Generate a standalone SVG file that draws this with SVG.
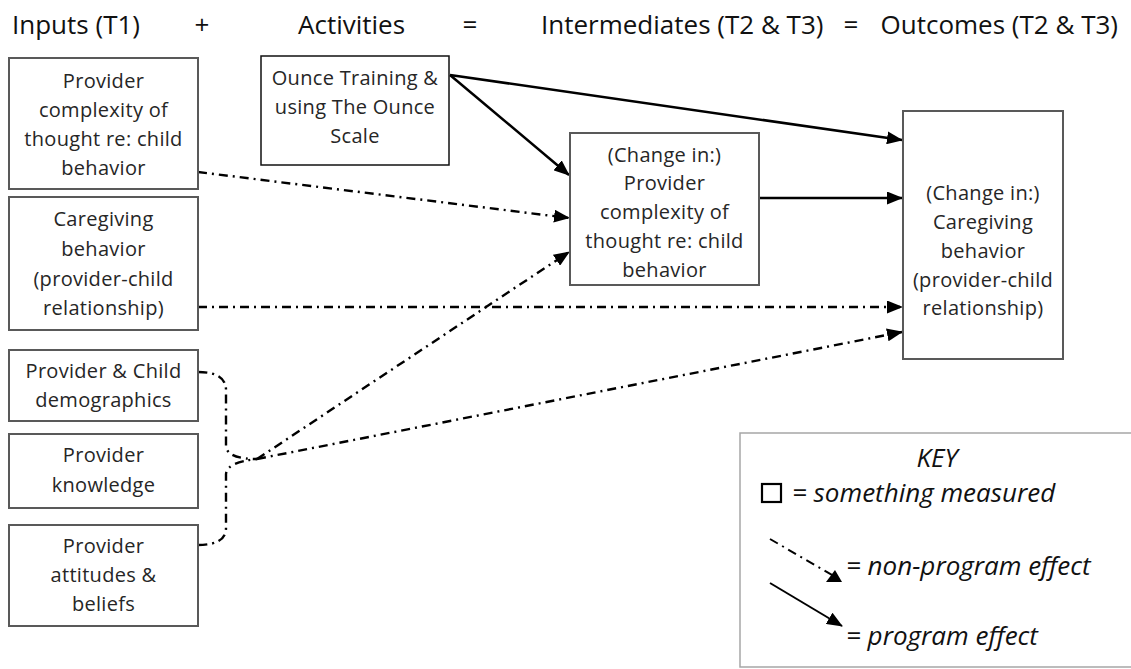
<svg xmlns="http://www.w3.org/2000/svg" width="1131" height="669" viewBox="0 0 1131 669">
<style>
.title{font-family:"Open Sans","Liberation Sans",sans-serif;font-size:26px;fill:#111;}
.box{fill:#fff;stroke:#595959;stroke-width:2;}
.box2{fill:#fff;stroke:#111;stroke-width:1.5;}
.t{font-family:"Open Sans","Liberation Sans",sans-serif;font-size:20px;fill:#262626;text-anchor:middle;letter-spacing:0.3px;}
.solid{fill:none;stroke:#000;stroke-width:2.5;marker-end:url(#ah);}
.dd{fill:none;stroke:#000;stroke-width:2.4;stroke-dasharray:9 5 2 5;}
.dda{marker-end:url(#ah);}
.key{font-family:"Open Sans","Liberation Sans",sans-serif;font-size:26px;font-style:italic;fill:#111;}
</style>
<defs>
<marker id="ah" markerUnits="userSpaceOnUse" markerWidth="16" markerHeight="13" refX="15" refY="6.5" orient="auto">
<path d="M0,0 L16,6.5 L0,13 z" fill="#000"/>
</marker>
</defs>
<rect width="1131" height="669" fill="#fff"/>
<g id="header">
<text class="title" x="12" y="34">Inputs (T1)</text>
<text class="title" x="202" y="34" text-anchor="middle">+</text>
<text class="title" x="298" y="34">Activities</text>
<text class="title" x="470" y="34" text-anchor="middle">=</text>
<text class="title" x="541" y="34">Intermediates (T2 &amp; T3)</text>
<text class="title" x="851" y="34" text-anchor="middle">=</text>
<text class="title" x="1118" y="34" text-anchor="end">Outcomes (T2 &amp; T3)</text>
</g>
<g id="connectors">
<line class="solid" x1="450" y1="75" x2="902" y2="140"/>
<line class="solid" x1="450" y1="75" x2="569" y2="175"/>
<line class="solid" x1="759" y1="198" x2="902" y2="198"/>
<line class="dd dda" x1="198" y1="172" x2="569" y2="218"/>
<line class="dd dda" x1="198" y1="307" x2="902" y2="307"/>
<line class="dd dda" x1="257" y1="459" x2="569" y2="252"/>
<line class="dd dda" x1="257" y1="459" x2="902" y2="332"/>
<path class="dd" d="M198,372 Q226,372 226,390 L226,446 Q227,459 257,459"/>
<path class="dd" d="M198,545 Q226,545 226,528 L226,474 Q227,462 257,459"/>
</g>
<g id="n1">
<rect class="box" x="9" y="58" width="189" height="131"/>
<text class="t" x="103.5" y="88">Provider</text>
<text class="t" x="103.5" y="117">complexity of</text>
<text class="t" x="103.5" y="146">thought re: child</text>
<text class="t" x="103.5" y="175">behavior</text>
</g>
<g id="n2">
<rect class="box" x="9" y="197" width="189" height="133"/>
<text class="t" x="103.5" y="226">Caregiving</text>
<text class="t" x="103.5" y="256">behavior</text>
<text class="t" x="103.5" y="286">(provider-child</text>
<text class="t" x="103.5" y="315">relationship)</text>
</g>
<g id="n3">
<rect class="box" x="9" y="350" width="189" height="71"/>
<text class="t" x="103.5" y="378">Provider &amp; Child</text>
<text class="t" x="103.5" y="407">demographics</text>
</g>
<g id="n4">
<rect class="box" x="9" y="434" width="189" height="74"/>
<text class="t" x="103.5" y="462">Provider</text>
<text class="t" x="103.5" y="492">knowledge</text>
</g>
<g id="n5">
<rect class="box" x="9" y="525" width="189" height="101"/>
<text class="t" x="103.5" y="553">Provider</text>
<text class="t" x="103.5" y="582">attitudes &amp;</text>
<text class="t" x="103.5" y="611">beliefs</text>
</g>
<g id="n6">
<rect class="box2" x="261" y="56" width="188" height="109"/>
<text class="t" x="355" y="85">Ounce Training &amp;</text>
<text class="t" x="355" y="114">using The Ounce</text>
<text class="t" x="355" y="143">Scale</text>
</g>
<g id="n7">
<rect class="box" x="570" y="133" width="189" height="152"/>
<text class="t" x="664.5" y="162">(Change in:)</text>
<text class="t" x="664.5" y="190">Provider</text>
<text class="t" x="664.5" y="219">complexity of</text>
<text class="t" x="664.5" y="248">thought re: child</text>
<text class="t" x="664.5" y="277">behavior</text>
</g>
<g id="n8">
<rect class="box" x="903" y="111" width="160" height="248"/>
<text class="t" x="983" y="200">(Change in:)</text>
<text class="t" x="983" y="229">Caregiving</text>
<text class="t" x="983" y="258">behavior</text>
<text class="t" x="983" y="287">(provider-child</text>
<text class="t" x="983" y="315">relationship)</text>
</g>
<g id="legend">
<rect x="740" y="433" width="400" height="234" fill="#fff" stroke="#a6a6a6" stroke-width="1.5"/>
<text class="key" x="937" y="467" text-anchor="middle">KEY</text>
<rect x="762" y="484" width="19" height="18" fill="none" stroke="#000" stroke-width="2.2"/>
<text class="key" x="792" y="502">= something measured</text>
<line x1="770" y1="539" x2="834" y2="576" stroke="#000" stroke-width="2" stroke-dasharray="9 5 2 5"/>
<polygon points="826,582 842,582 835,570" fill="#000"/>
<text class="key" x="846" y="575">= non-program effect</text>
<line class="solid" x1="770" y1="583" x2="842" y2="626" style="stroke-width:2"/>
<text class="key" x="846" y="645">= program effect</text>
</g>
</svg>
